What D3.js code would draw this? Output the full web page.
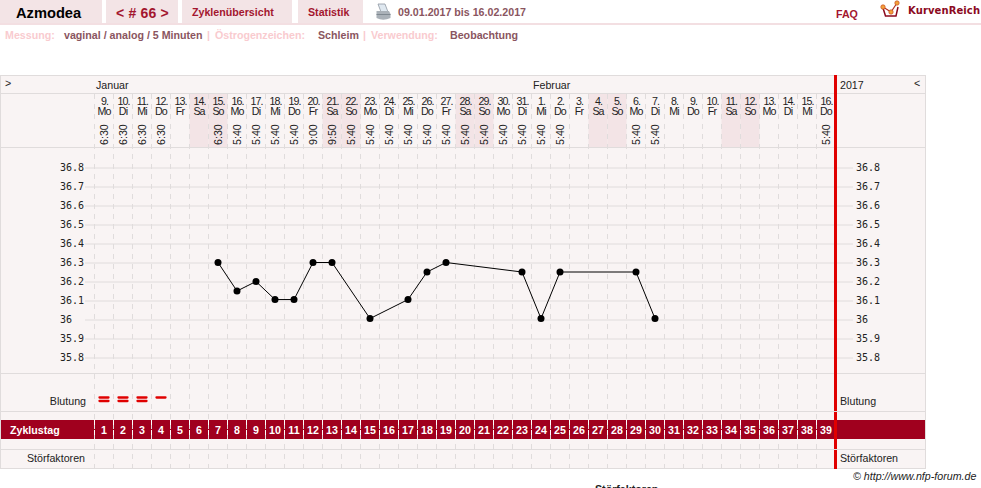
<!DOCTYPE html>
<html><head><meta charset="utf-8">
<script src="https://cdn.jsdelivr.net/npm/d3@7"></script>
<style>
html,body{margin:0;padding:0;background:#fff;overflow:hidden}
svg{display:block}
text{font-family:"Liberation Sans",Arial,sans-serif}
</style></head><body><svg id="c" width="981" height="488"></svg>
<script>
const dayNumbers=[9,10,11,12,13,14,15,16,17,18,19,20,21,22,23,24,25,26,27,28,29,30,31,1,2,3,4,5,6,7,8,9,10,11,12,13,14,15,16];
const weekdays=["Mo","Di","Mi","Do","Fr","Sa","So","Mo","Di","Mi","Do","Fr","Sa","So","Mo","Di","Mi","Do","Fr","Sa","So","Mo","Di","Mi","Do","Fr","Sa","So","Mo","Di","Mi","Do","Fr","Sa","So","Mo","Di","Mi","Do"];
const times=["6:30","6:30","6:30","6:30","","","6:30","5:40","5:40","5:40","5:40","9:00","9:50","5:40","5:40","5:40","5:40","5:40","5:40","5:40","5:40","5:40","5:40","5:40","5:40","","","","5:40","5:40","","","","","","","","","5:40"];
const cycleDays=d3.range(1,40);
const tempTicks=[35.8,35.9,36,36.1,36.2,36.3,36.4,36.5,36.6,36.7,36.8];
const tempDays=[7,8,9,10,11,12,13,15,17,18,19,23,24,25,29,30];
const tempValues=[36.3,36.15,36.2,36.105,36.105,36.3,36.3,36.005,36.105,36.25,36.3,36.25,36.005,36.25,36.25,36.005];
const bleedDays=[1,2,3,4];
const bleedLevels=[2,2,2,1];
const months=["Januar","Februar"];
const tabs=["Zyklenübersicht","Statistik"];

const svg=d3.select("#c");
const x=d3.scaleLinear().domain([1,39]).range([104,826]);
const y=d3.scaleLinear().domain([35.8,36.8]).range([357.5,167.5]);
const W=19,TOP=75,BOT=468,FS=10.67;
const pink="#f3e4e6",panel="#f9f4f4",grid="#e0dcdc",maroon="#a0001e",tabText="#a3162f",mute="#8a5560",light="#f9cbcf",red="#e00000";

function T(s,px,py,o={}){
  const t=svg.append("text").attr("x",px).attr("y",py).text(s)
   .attr("font-size",o.size||FS).attr("fill",o.fill||"#222")
   .attr("text-anchor",o.anchor||"start");
  if(o.bold)t.attr("font-weight","bold");
  if(o.italic)t.attr("font-style","italic");
  if(o.family)t.style("font-family",o.family);
  if(o.ls!=null)t.attr("letter-spacing",o.ls);
  return t;
}
function R(a,b,w,h,f){return svg.append("rect").attr("x",a).attr("y",b).attr("width",w).attr("height",h).attr("fill",f);}
function HL(a,b,py,c){svg.append("line").attr("x1",a).attr("x2",b).attr("y1",py).attr("y2",py).attr("stroke",c||grid);}

// top navigation
[[0,102],[106,72],[182,110],[298,65]].forEach(d=>R(d[0],0,d[1],23,pink));
R(0,23,981,2,"#f3dfe2");
T("Azmodea",16,18,{size:14.67,bold:true,fill:"#000"});
T("< # 66 >",116,18,{size:14,bold:true,fill:tabText,ls:0.2});
T(tabs[0],192,16,{bold:true,fill:tabText});
T(tabs[1],308,16,{bold:true,fill:tabText});
T("09.01.2017 bis 16.02.2017",398,16,{bold:true,fill:mute});
T("FAQ",836,18,{bold:true,fill:tabText});
T("KurvenReich",908,14,{size:10,bold:true,fill:"#8b0a1e",family:"'DejaVu Sans',sans-serif",ls:0.1});
// printer icon
const pr=svg.append("g").attr("transform","translate(376,4)");
pr.append("path").attr("d","M2 0H9L12 8H5Z").attr("fill","#dfe8f0").attr("stroke","#8f98a2").attr("stroke-width",.8);
pr.append("path").attr("d","M0.5 7H13L14.5 10V14Q7 17.5 0.5 14Z").attr("fill","#aab1b8");
pr.append("path").attr("d","M0.5 10.5H14.5").attr("stroke","#7f8890");
// logo icon
const lg=svg.append("g").attr("transform","translate(880,0)");
lg.append("path").attr("d","M3 8L5.5 16H16L18 7").attr("fill","none").attr("stroke","#8b0a1e").attr("stroke-width",1.5);
lg.append("path").attr("d","M3 7L11 12L17 3").attr("fill","none").attr("stroke","#b03020").attr("stroke-width",1.2);
[[3,7],[11,12],[17,3]].forEach(p=>lg.append("circle").attr("cx",p[0]).attr("cy",p[1]).attr("r",2.2).attr("fill","#f2a23a").attr("stroke","#c84a20").attr("stroke-width",.7));

// info line
const ly=39;
T("Messung:",5,ly,{bold:true,fill:light});
T("vaginal / analog / 5 Minuten",64,ly,{bold:true,fill:mute});
T("|",207,ly,{bold:true,fill:light});
T("Östrogenzeichen:",215,ly,{bold:true,fill:light});
T("Schleim",318,ly,{bold:true,fill:mute});
T("|",363,ly,{bold:true,fill:light});
T("Verwendung:",371,ly,{bold:true,fill:light});
T("Beobachtung",450,ly,{bold:true,fill:mute});

// panel
R(0.5,TOP+.5,925,BOT-TOP,panel).attr("stroke",grid);
// weekend shading
svg.append("g").selectAll("rect").data(cycleDays.filter(d=>weekdays[d-1]==="Sa"||weekdays[d-1]==="So")).join("rect")
 .attr("x",d=>x(d)-9.5).attr("width",W).attr("y",94).attr("height",53).attr("fill",pink);
// band
R(1,420,924,19,maroon);
// row lines
[93.5,147.5,373.5,411.5,449.5].forEach(p=>HL(1,925,p));
// column separators
svg.append("g").selectAll("line").data(cycleDays).join("line")
 .attr("x1",d=>x(d)-9.5).attr("x2",d=>x(d)-9.5).attr("y1",94).attr("y2",BOT)
 .attr("stroke",grid).attr("stroke-dasharray","5 5");
svg.append("g").selectAll("line").data(cycleDays).join("line")
 .attr("x1",d=>x(d)-9.5).attr("x2",d=>x(d)-9.5).attr("y1",420).attr("y2",439)
 .attr("stroke","#fff").attr("stroke-dasharray","5 5");

// y axes
const axL=d3.axisLeft(y).tickValues(tempTicks).tickSize(750).tickFormat(d=>String(d));
const gL=svg.append("g").attr("transform","translate(835,0)").call(axL);
const axR=d3.axisRight(y).tickValues(tempTicks).tickSize(16).tickFormat(d=>String(d));
const gR=svg.append("g").attr("transform","translate(837,0)").call(axR);
[gL,gR].forEach(g=>{
  g.select(".domain").remove();
  g.selectAll(".tick line").attr("stroke",grid);
  g.selectAll(".tick text").attr("fill","#222").attr("text-anchor","start")
   .style("font-family","'DejaVu Sans Mono',monospace").style("font-size","10px");
});
gL.selectAll(".tick text").attr("x",60-835);
gR.selectAll(".tick text").attr("x",19);

// header labels
T(">",5,87,{fill:"#222"});
T("<",914,87,{fill:"#222"});
months.forEach((m,i)=>T(m,i===0?96:533,89));
T("2017",840,89);
const hd=svg.append("g");
hd.selectAll("text.n").data(cycleDays).join("text").attr("class","n")
 .attr("x",d=>x(d)+.5).attr("y",105).attr("text-anchor","middle").attr("font-size",10.67).attr("letter-spacing",-.9).attr("fill","#222")
 .text(d=>dayNumbers[d-1]+".");
hd.selectAll("text.w").data(cycleDays).join("text").attr("class","w")
 .attr("x",d=>x(d)).attr("y",115).attr("text-anchor","middle").attr("font-size",10.67).attr("letter-spacing",-.9).attr("fill","#222")
 .text(d=>weekdays[d-1]);
hd.selectAll("text.t").data(cycleDays.filter(d=>times[d-1])).join("text").attr("class","t")
 .attr("transform",d=>`translate(${x(d)+4},145) rotate(-90)`).attr("font-size",FS).attr("fill","#222")
 .text(d=>times[d-1]);

// bleeding
const bl=svg.append("g");
bleedDays.forEach((d,i)=>{
  d3.range(bleedLevels[i]).forEach(k=>{
    bl.append("line").attr("x1",x(d)-4.5).attr("x2",x(d)+4.5).attr("y1",397.5+k*3.5).attr("y2",397.5+k*3.5)
      .attr("stroke",red).attr("stroke-width",2.3).attr("stroke-linecap","round");
  });
});

// temperature
const pts=tempDays.map((d,i)=>[d,tempValues[i]]);
svg.append("path").datum(pts).attr("fill","none").attr("stroke","#000").attr("stroke-width",1)
 .attr("d",d3.line().x(d=>x(d[0])).y(d=>y(d[1])));
svg.append("g").selectAll("circle").data(pts).join("circle")
 .attr("cx",d=>x(d[0])).attr("cy",d=>y(d[1])).attr("r",3.5).attr("fill","#000");

// row labels
T("Blutung",86,405,{anchor:"end"});
T("Blutung",840,405);
T("Störfaktoren",85,462,{anchor:"end"});
T("Störfaktoren",840,462);
T("Zyklustag",10,434,{bold:true,fill:"#fff"});
svg.append("g").selectAll("text").data(cycleDays).join("text")
 .attr("x",d=>x(d)).attr("y",434).attr("text-anchor","middle").attr("font-size",FS).attr("font-weight","bold").attr("fill","#fff")
 .text(d=>d);

// red line
R(834,TOP,3,BOT-TOP+1,red);
[411.5,449.5].forEach(p=>HL(834,837,p));

// footer
T("© http://www.nfp-forum.de",853,480,{italic:true,fill:"#222"});
T("Störfaktoren",595,493,{bold:true,fill:"#222"});
</script></body></html>
